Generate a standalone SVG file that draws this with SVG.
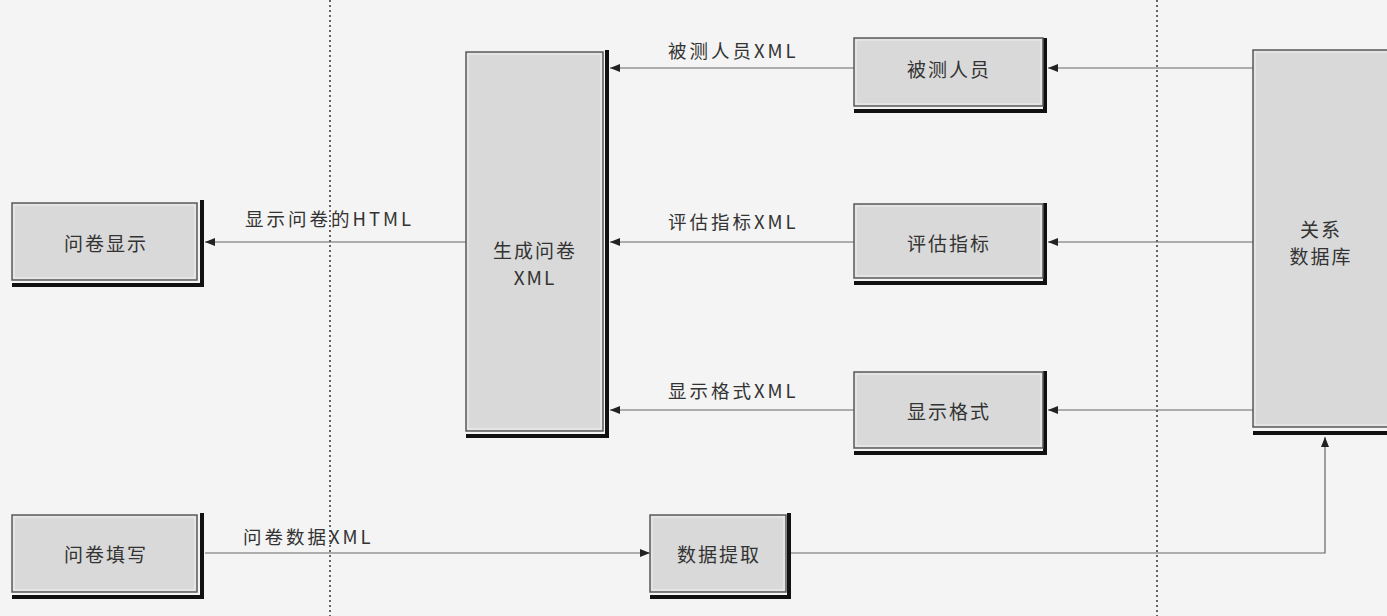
<svg xmlns="http://www.w3.org/2000/svg" width="1387" height="616" viewBox="0 0 1387 616">
<defs>
<style>
.box{fill:#d9d9d9;stroke:#5a5a5a;stroke-width:1.5}
.inner{fill:none;stroke:#f0f0f0;stroke-width:1}
.sh{fill:none;stroke:#111;stroke-width:4}
.t{font-family:"Noto Sans CJK SC","Noto Sans",sans-serif;font-size:19px;letter-spacing:2px;fill:#333;text-anchor:middle;dominant-baseline:central}
.lbl{font-family:"Noto Sans CJK SC","Noto Sans",sans-serif;font-size:18.5px;letter-spacing:3px;fill:#333;dominant-baseline:central}
.c{fill:none;stroke:#666;stroke-width:1.2}
.dot{stroke:#333;stroke-width:1.5;stroke-dasharray:2 3}
</style>
<marker id="ah" viewBox="0 0 10 10" refX="10" refY="5" markerWidth="10" markerHeight="10" markerUnits="userSpaceOnUse" orient="auto">
<path d="M0,1 L10,5 L0,9 Z" fill="#222"/>
</marker>
</defs>
<rect width="1387" height="616" fill="#f4f4f4"/>
<g id="dividers">
<line class="dot" x1="330" y1="0" x2="330" y2="616"/>
<line class="dot" x1="1157" y1="0" x2="1157" y2="616"/>
</g>
<g id="connectors">
<line class="c" x1="1253" y1="68" x2="1048" y2="68" marker-end="url(#ah)"/>
<line class="c" x1="1253" y1="242" x2="1048" y2="242" marker-end="url(#ah)"/>
<line class="c" x1="1253" y1="410" x2="1048" y2="410" marker-end="url(#ah)"/>
<line class="c" x1="854" y1="68" x2="610" y2="68" marker-end="url(#ah)"/>
<line class="c" x1="854" y1="242" x2="610" y2="242" marker-end="url(#ah)"/>
<line class="c" x1="854" y1="410" x2="610" y2="410" marker-end="url(#ah)"/>
<line class="c" x1="466" y1="242" x2="205" y2="242" marker-end="url(#ah)"/>
<line class="c" x1="205" y1="553" x2="650" y2="553" marker-end="url(#ah)"/>
<polyline class="c" points="790,553 1325,553 1325,437" marker-end="url(#ah)"/>
<text class="lbl" x="668" y="50">被测人员XML</text>
<text class="lbl" x="668" y="221">评估指标XML</text>
<text class="lbl" x="668" y="390">显示格式XML</text>
<text class="lbl" x="245" y="218">显示问卷的HTML</text>
<text class="lbl" x="243" y="536">问卷数据XML</text>
</g>
<g id="n-wenjuanxianshi">
<polyline class="sh" points="12,285 202,285 202,200"/>
<rect class="box" x="12" y="203" width="185" height="77"/>
<rect class="inner" x="14" y="205" width="181" height="73"/>
<text class="t" x="106" y="242">问卷显示</text>
</g>
<g id="n-shengcheng">
<polyline class="sh" points="466,436 607,436 607,50"/>
<rect class="box" x="466" y="52" width="137" height="379"/>
<rect class="inner" x="468" y="54" width="133" height="375"/>
<text class="t" x="535" y="249">生成问卷</text>
<text class="t" x="535" y="276">XML</text>
</g>
<g id="n-beice">
<polyline class="sh" points="854,111 1045,111 1045,38"/>
<rect class="box" x="854" y="38" width="189" height="68"/>
<rect class="inner" x="856" y="40" width="185" height="64"/>
<text class="t" x="949" y="68">被测人员</text>
</g>
<g id="n-pinggu">
<polyline class="sh" points="854,283 1045,283 1045,203"/>
<rect class="box" x="854" y="204" width="189" height="74"/>
<rect class="inner" x="856" y="206" width="185" height="70"/>
<text class="t" x="949" y="242">评估指标</text>
</g>
<g id="n-geshi">
<polyline class="sh" points="854,453 1045,453 1045,371"/>
<rect class="box" x="854" y="372" width="189" height="76"/>
<rect class="inner" x="856" y="374" width="185" height="72"/>
<text class="t" x="949" y="410">显示格式</text>
</g>
<g id="n-db">
<line class="sh" x1="1253" y1="433" x2="1387" y2="433"/>
<rect class="box" x="1253" y="50" width="140" height="377"/>
<rect class="inner" x="1255" y="52" width="136" height="373"/>
<text class="t" x="1321" y="228">关系</text>
<text class="t" x="1321" y="255">数据库</text>
</g>
<g id="n-tianxie">
<polyline class="sh" points="12,597 202,597 202,513"/>
<rect class="box" x="12" y="515" width="185" height="77"/>
<rect class="inner" x="14" y="517" width="181" height="73"/>
<text class="t" x="106" y="553">问卷填写</text>
</g>
<g id="n-tiqu">
<polyline class="sh" points="650,597 789,597 789,513"/>
<rect class="box" x="650" y="515" width="136" height="77"/>
<rect class="inner" x="652" y="517" width="132" height="73"/>
<text class="t" x="719" y="553">数据提取</text>
</g>
</svg>
